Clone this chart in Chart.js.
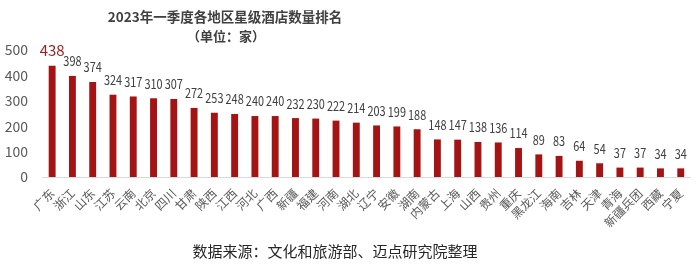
<!DOCTYPE html>
<html>
<head>
<meta charset="utf-8">
<script src="https://cdn.jsdelivr.net/npm/chart.js@4"></script>
<style>
  body { margin: 0; background: #fff; font-family: "Noto Sans CJK SC", sans-serif; }
  #wrap { position: relative; width: 700px; height: 268px; }
  .txt { position: absolute; white-space: nowrap; transform: translateX(-50%); }
  #title { left: 225px; top: 6px; font-size: 13.5px; font-weight: bold; color: #404040; }
  #unit { left: 226px; top: 26px; font-size: 13px; font-weight: bold; color: #404040; }
  #source { left: 335px; top: 240px; font-size: 15px; color: #262626; }
</style>
</head>
<body>
<div id="wrap">
  <canvas id="chart" width="700" height="268"></canvas>
  <div class="txt" id="title">2023年一季度各地区星级酒店数量排名</div>
  <div class="txt" id="unit">（单位：家）</div>
  <div class="txt" id="source">数据来源：文化和旅游部、迈点研究院整理</div>
</div>
<script>
const regions = ['广东', '浙江', '山东', '江苏', '云南', '北京', '四川', '甘肃', '陕西', '江西', '河北', '广西', '新疆', '福建', '河南', '湖北', '辽宁', '安徽', '湖南', '内蒙古', '上海', '山西', '贵州', '重庆', '黑龙江', '海南', '吉林', '天津', '青海', '新疆兵团', '西藏', '宁夏'];
const hotels = [438, 398, 374, 324, 317, 310, 307, 272, 253, 248, 240, 240, 232, 230, 222, 214, 203, 199, 188, 148, 147, 138, 136, 114, 89, 83, 64, 54, 37, 37, 34, 34];

// value labels above the bars, first one highlighted
const valueLabels = {
  id: 'valueLabels',
  afterDatasetsDraw(chart) {
    const c = chart.ctx;
    const meta = chart.getDatasetMeta(0);
    c.save();
    c.textAlign = 'center';
    c.textBaseline = 'bottom';
    meta.data.forEach((bar, i) => {
      c.save();
      c.translate(bar.x, bar.y - 8);
      if (i === 0) {
        c.fillStyle = '#9c1c1c';
        c.font = '15px "Noto Sans CJK SC", sans-serif';
      } else {
        c.fillStyle = '#404040';
        c.font = '13px "Noto Sans CJK SC", sans-serif';
        c.scale(0.84, 1);
      }
      c.fillText(hotels[i], 0, 0);
      c.restore();
    });
    c.restore();
  }
};

new Chart(document.getElementById('chart').getContext('2d'), {
  type: 'bar',
  data: {
    labels: regions,
    datasets: [{
      data: hotels,
      backgroundColor: '#a51414',
      barPercentage: 0.68,
      categoryPercentage: 0.5
    }]
  },
  options: {
    responsive: false,
    animation: false,
    layout: { padding: { top: 50, right: 5, left: 0, bottom: 0 } },
    plugins: { legend: { display: false }, tooltip: { enabled: false } },
    scales: {
      x: {
        grid: { display: false, drawTicks: false },
        border: { color: '#d9d9d9', width: 1 },
        ticks: {
          color: '#595959',
          font: { size: 12, family: '"Noto Sans CJK SC", sans-serif' },
          minRotation: 45,
          maxRotation: 45,
          autoSkip: false,
          padding: 9
        },
        afterFit(scale) { scale.height = 91; }
      },
      y: {
        min: 0,
        max: 500,
        ticks: {
          stepSize: 100,
          color: '#595959',
          font: { size: 14, family: '"Noto Sans CJK SC", sans-serif' },
          padding: 6
        },
        grid: { display: false },
        border: { display: false },
        afterFit(scale) { scale.width = 42; }
      }
    }
  },
  plugins: [valueLabels]
});
</script>
</body>
</html>
